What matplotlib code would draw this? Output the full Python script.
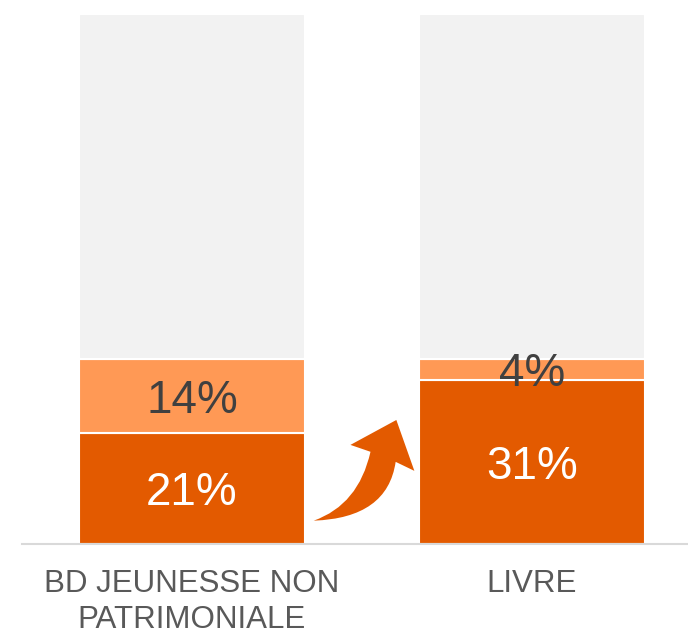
import numpy as np
import matplotlib.pyplot as plt
from matplotlib.path import Path
from matplotlib.patches import PathPatch

categories = ["BD JEUNESSE NON\nPATRIMONIALE", "LIVRE"]
share_main = [21, 31]
share_second = [14, 4]

plt.rcParams['font.family'] = ['Liberation Sans', 'DejaVu Sans']

dark = "#E35A00"
light = "#FF9955"
grey = "#F2F2F2"

fig = plt.figure(figsize=(6.88, 6.31), dpi=100)
ax = fig.add_axes([22 / 688, 87 / 631, 680 / 688, 530 / 631])

x = np.arange(len(categories))
main = np.array(share_main) / 100
second = np.array(share_second) / 100
rest = 1 - main - second
w = 0.662

ax.bar(x, main, w, color=dark, edgecolor="white", linewidth=1.5)
ax.bar(x, second, w, bottom=main, color=light, edgecolor="white", linewidth=1.5)
ax.bar(x, rest, w, bottom=main + second, color=grey, edgecolor="white", linewidth=1.5)

for i in range(len(x)):
    ax.annotate(f"{share_main[i]}%", (x[i], main[i] / 2), xytext=(0, -3.6),
                textcoords="offset points", ha="center", va="center",
                fontsize=33, color="white")
    ax.annotate(f"{share_second[i]}%", (x[i], main[i] + second[i] / 2),
                xytext=(0, -3.6), textcoords="offset points", ha="center",
                va="center", fontsize=33, color="#404040")

# curved arrow between the bars
verts = [
    (0.358, 0.044),
    (0.490, 0.074), (0.525, 0.174),
    (0.466, 0.187),
    (0.601, 0.234),
    (0.654, 0.138),
    (0.599, 0.155),
    (0.575, 0.049), (0.358, 0.044),
    (0.358, 0.044),
]
codes = [Path.MOVETO,
         Path.CURVE3, Path.CURVE3,
         Path.LINETO, Path.LINETO, Path.LINETO, Path.LINETO,
         Path.CURVE3, Path.CURVE3,
         Path.CLOSEPOLY]
ax.add_patch(PathPatch(Path(verts, codes), facecolor=dark, edgecolor="none", zorder=5))

ax.set_xlim(-0.5, 1.5)
ax.set_ylim(0, 1)
ax.set_xticks(x)
ax.set_xticklabels(categories, fontsize=22.5, color="#595959", linespacing=1.25)
ax.tick_params(axis="x", length=0, pad=18)
ax.set_yticks([])
for s in ["top", "right", "left"]:
    ax.spines[s].set_visible(False)
ax.spines["bottom"].set_color("#D9D9D9")
ax.spines["bottom"].set_linewidth(1.5)

fig.savefig("out.png", dpi=100)
